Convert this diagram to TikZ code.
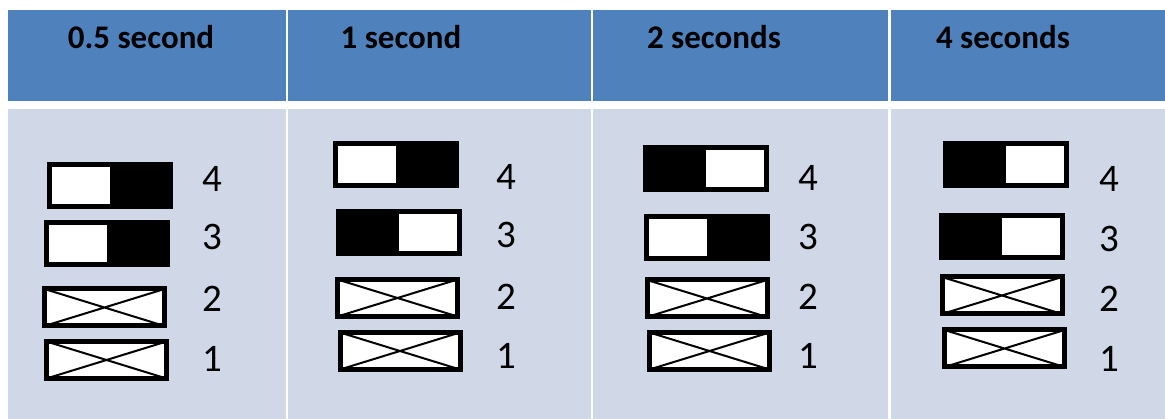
\documentclass[tikz,border=0pt]{standalone}
\usepackage{fontspec}
\setmainfont{Carlito}
\usepackage{tikz}
\usetikzlibrary{positioning,calc}
\definecolor{headblue}{RGB}{79,129,189}
\definecolor{bodyblue}{RGB}{208,216,232}

\tikzset{
  headcell/.style={fill=headblue},
  bodycell/.style={fill=bodyblue},
  headtext/.style={anchor=base, font=\fontsize{33}{33}\selectfont\bfseries},
  numtext/.style={anchor=base, font=\fontsize{39}{39}\selectfont},
  sw/.style={draw, line width=5pt, fill=white, inner sep=0pt,
    minimum width=121pt, minimum height=42pt},
  % white half left, black half right
  offon/.style={sw, path picture={
    \fill[black] (path picture bounding box.north) rectangle (path picture bounding box.south east);}},
  % black half left, white half right
  onoff/.style={sw, path picture={
    \fill[black] (path picture bounding box.north west) rectangle (path picture bounding box.south);}},
  crossed/.style={sw, minimum width=120pt, minimum height=37pt, path picture={
    \draw[black, line width=2pt] (path picture bounding box.north west) -- (path picture bounding box.south east)
      (path picture bounding box.south west) -- (path picture bounding box.north east);}}
}

\begin{document}
\begin{tikzpicture}[x=1pt, y=-1pt]
    \useasboundingbox (0,0) rectangle (1165,419);
    % table cells
    \fill[headcell] (8,10) rectangle (285.5,101);
    \fill[headcell] (288,10) rectangle (591,101);
    \fill[headcell] (593,10) rectangle (888,101);
    \fill[headcell] (890.5,10) rectangle (1165,101);
    \fill[bodycell] (8,109) rectangle (285.5,419);
    \fill[bodycell] (288,109) rectangle (591,419);
    \fill[bodycell] (593,109) rectangle (888,419);
    \fill[bodycell] (890.5,109) rectangle (1165,419);

    \node[headtext] (h1) at (141,49) {0.5 second};
    \node[headtext] (h2) at (401,49) {1 second};
    \node[headtext] (h3) at (714,49) {2 seconds};
    \node[headtext] (h4) at (1003,49) {4 seconds};

    % 0.5 second
    \node[offon] (a4) at (110,185.5) {};
    \node[offon] (a3) at (107,243.5) {};
    \node[crossed] (a2) at (104.5,307.5) {};
    \node[crossed] (a1) at (106.5,360) {};
    \node[numtext] (na4) at (212,192) {4};
    \node[numtext] (na3) at (212,250) {3};
    \node[numtext] (na2) at (212,312) {2};
    \node[numtext] (na1) at (212,372) {1};

    % 1 second
    \node[offon] (b4) at (396,165) {};
    \node[onoff] (b3) at (399,232.5) {};
    \node[crossed] (b2) at (397.5,298) {};
    \node[crossed] (b1) at (400,351) {};
    \node[numtext] (nb4) at (506,190) {4};
    \node[numtext] (nb3) at (506,248) {3};
    \node[numtext] (nb2) at (506,310) {2};
    \node[numtext] (nb1) at (506,369) {1};

    % 2 seconds
    \node[onoff] (c4) at (706,168.5) {};
    \node[offon] (c3) at (707,237.5) {};
    \node[crossed] (c2) at (707,298.5) {};
    \node[crossed] (c1) at (709.5,351) {};
    \node[numtext] (nc4) at (808,191) {4};
    \node[numtext] (nc3) at (808,250) {3};
    \node[numtext] (nc2) at (808,310) {2};
    \node[numtext] (nc1) at (808,369) {1};

    % 4 seconds
    \node[onoff] (d4) at (1006,165) {};
    \node[onoff] (d3) at (1002,236.5) {};
    \node[crossed] (d2) at (1002,295.5) {};
    \node[crossed] (d1) at (1004.5,348.5) {};
    \node[numtext] (nd4) at (1109,192) {4};
    \node[numtext] (nd3) at (1109,252) {3};
    \node[numtext] (nd2) at (1109,312) {2};
    \node[numtext] (nd1) at (1109,372) {1};
\end{tikzpicture}
\end{document}
